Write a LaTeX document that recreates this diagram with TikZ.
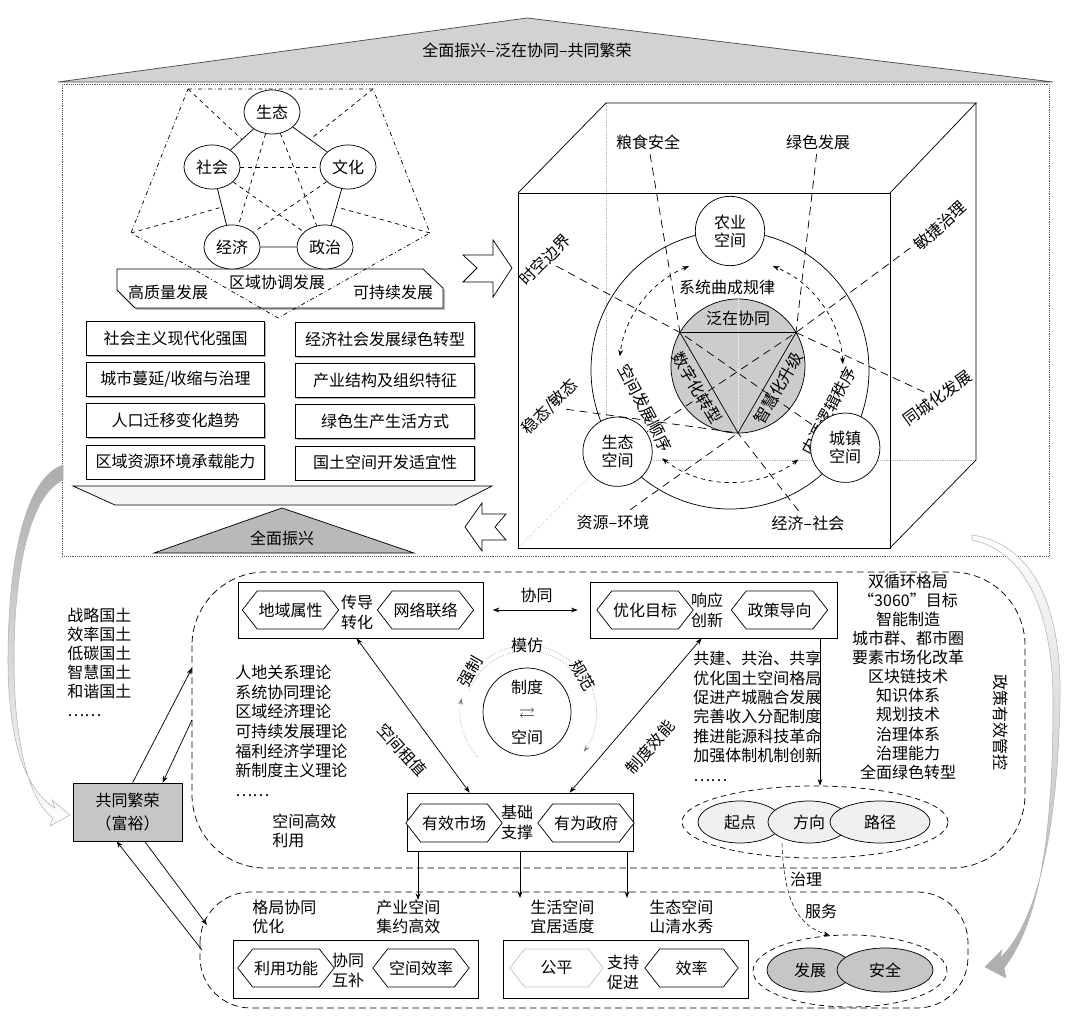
\documentclass[tikz,border=0pt]{standalone}
\usepackage{fontspec}
\usepackage{amssymb}
\setmainfont{Noto Sans CJK SC}
\usetikzlibrary{shapes.geometric,shapes.symbols,arrows.meta,calc,positioning,shadows}

\begin{document}
\begin{tikzpicture}[x=0.75pt,y=-0.75pt,line width=0.55pt,font=\fontsize{12}{15}\selectfont,>={Stealth[length=5pt,width=3.6pt]}]
\tikzset{ell/.style={ellipse,draw,fill=white,minimum width=42pt,minimum height=33pt,inner sep=0pt}};
\tikzset{spc/.style={circle,draw,fill=white,minimum size=52pt,inner sep=0pt,align=center,font=\fontsize{12}{13.5}\selectfont}};
\tikzset{tbox/.style={draw,fill=white,minimum width=134pt,minimum height=25.5pt,inner sep=0pt,
  drop shadow={shadow xshift=1.2pt,shadow yshift=-1.2pt,fill=gray!60,opacity=1}}};
\tikzset{hex/.style={signal,signal to=east and west,signal pointer angle=104,draw,fill=white,
  minimum width=#1,minimum height=28.5pt,inner sep=1pt},hex/.default=71pt};
\tikzset{pbox/.style={draw,inner sep=0pt}};
\tikzset{ray/.style={dash pattern=on 6pt off 4pt}};
\tikzset{lst/.style={inner sep=0pt,text height=10.2pt,text depth=1.8pt}};
\tikzset{two/.style={align=center,inner sep=0pt}};
\tikzset{grp/.style={ellipse,draw,dash pattern=on 4pt off 3pt,inner sep=0pt}};
\tikzset{oval/.style={ellipse,draw,inner sep=0pt,minimum height=31.5pt}};

\useasboundingbox (0,0) rectangle (1065,1016);

% roof and frame
\draw[fill=gray!35,draw=gray!60!black] (58,82) -- (527,18) -- (1053,82) -- cycle;
\node (roof) at (527,50) {全面振兴–泛在协同–共同繁荣};
\draw[gray!70!black,densely dotted,thin] (62,84) rectangle (1049,556);

% banner
\fill[gray!55] (119,271) -- (425,271) -- (445,290) -- (445,310) -- (137,310) -- (119,292) -- cycle;
\draw[fill=white] (117,269) -- (423,269) -- (443,288) -- (443,308) -- (135,308) -- (117,290) -- cycle;
\node (gz) at (168,292) {高质量发展};
\node (qy) at (277,282) {区域协调发展};
\node (kc) at (393,292) {可持续发展};

% five elements
\coordinate (p1) at (188,89);
\coordinate (p2) at (373,89);
\coordinate (p3) at (430,233);
\coordinate (p4) at (278,318);
\coordinate (p5) at (131,233);
\draw[dash dot] (p1) -- (p2) -- (p3) -- (p4) -- (p5) -- cycle;
\node[ell] (st) at (272,112) {生态};
\node[ell] (sh) at (212,167) {社会};
\node[ell] (wh) at (348,167) {文化};
\node[ell] (jj) at (232,247) {经济};
\node[ell] (zz) at (325,247) {政治};
\draw (st) -- (sh) -- (jj) -- (zz) -- (wh) -- (st);
\draw[dashed] (sh) -- (wh);
\draw[dashed] (st) -- (jj);
\draw[dashed] (st) -- (zz);
\draw[dashed] (sh) -- (zz);
\draw[dashed] (wh) -- (jj);
\draw[dashed] (p1) -- ($(st)!0.5!(sh)$);
\draw[dashed] (p2) -- ($(st)!0.5!(wh)$);
\draw[dashed] (p5) -- ($(sh)!0.5!(jj)$);
\draw[dashed] (p3) -- ($(wh)!0.5!(zz)$);

% eight boxes
\foreach \t [count=\i] in {社会主义现代化强国,城市蔓延/收缩与治理,人口迁移变化趋势,区域资源环境承载能力}
  \node[tbox] (lb\i) at (175.5,{338+41.3*(\i-1)}) {\t};
\foreach \t [count=\i] in {经济社会发展绿色转型,产业结构及组织特征,绿色生产生活方式,国土空间开发适宜性}
  \node[tbox] (rb\i) at (385,{339+41.3*(\i-1)}) {\t};

% tray and base
\draw[fill=gray!8] (73,486) -- (492,486) -- (455,505) -- (115,505) -- cycle;
\draw[fill=gray!55] (154,553) -- (282,508) -- (414,553) -- cycle;
\node (qm) at (282,538) {全面振兴};

% hollow arrows
\draw[fill=white] (463,255) -- (493,255) -- (493,240) -- (512,268) -- (493,297) -- (493,282) -- (463,282) -- (477,268) -- cycle;
\draw[fill=white] (506,514) -- (482,514) -- (482,503) -- (465,527) -- (482,551) -- (482,540) -- (506,540) -- (495,527) -- cycle;

% cube
\draw[gray!60,densely dotted,thin] (606,103) -- (606,460) -- (976,460);
\draw[gray!60,densely dotted,thin] (606,460) -- (518,548);
\draw (518,193) rectangle (890,548);
\draw (518,193) -- (606,103) -- (976,103) -- (890,193);
\draw (976,103) -- (976,460) -- (890,548);

% circles
\coordinate (c) at (730,370);
\coordinate (c2) at (731,370);
\coordinate (g) at (738,366);
\draw (c) circle [radius=104.25pt];
\draw[fill=gray!40] (g) circle [radius=50.25pt];
\draw[white,densely dotted] ($(g)+(90:50pt)$) -- ($(g)+(270:50pt)$);
\coordinate (t1) at ($(g)+(150:50.25pt)$);
\coordinate (t2) at ($(g)+(30:50.25pt)$);
\coordinate (t3) at ($(g)+(270:50.25pt)$);
\draw (t1) -- (t2) -- (t3) -- cycle;
\node (fz) at (738,318) {泛在协同};
\node[rotate=-59] (sz) at (697,388) {数字化转型};
\node[rotate=60] (zh) at (778,388) {智慧化升级};
\node (xt) at (727,287) {系统曲成规律};

\draw[dashed,<->] ($(c2)+(112:84pt)$) arc[start angle=112,end angle=173,radius=84pt];
\draw[dashed,<->] ($(c2)+(3:84pt)$) arc[start angle=3,end angle=68,radius=84pt];
\draw[dashed,<->] ($(c2)+(232:84pt)$) arc[start angle=232,end angle=307,radius=84pt];
\node[rotate=-62] (kf) at (645,408) {空间发展顺序};
\node[rotate=62] (ny) at (829,411) {内源逻辑秩序};

\node[spc] (ny1) at ($(c)+(90:104.25pt)$) {农业\\空间};
\node[spc] (eco) at ($(c)+(216:104.25pt)$) {生态\\空间};
\node[spc] (cz) at ($(c)+(326:104.25pt)$) {城镇\\空间};

\node (ls) at (648,142) {粮食安全};
\node (gd) at (818,142) {绿色发展};
\node[rotate=45] (sk) at (545,260) {时空边界};
\node[rotate=42] (mj) at (940,226) {敏捷治理};
\node[rotate=45] (wt) at (550,407) {稳态/敏态};
\node[rotate=36] (tc) at (937,398) {同城化发展};
\node (zy) at (613,522) {资源–环境};
\node (js) at (808,523) {经济–社会};
\draw[ray] (ls) -- (t1);
\draw[ray] (gd) -- (t2);
\draw[ray] (sk) -- (t1) -- (cz);
\draw[ray] (mj) -- (t2) -- (eco);
\draw[ray] (wt) -- (t3);
\draw[ray] (tc) -- (t2);
\draw[ray] (zy) -- (t3);
\draw[ray] (js) -- (t3);

% gray curved arrows
\shade[top color=gray!65,bottom color=white,draw=gray!60,thin]
  (63,465) .. controls (25,478) and (8,560) .. (8,660) .. controls (8,740) and (25,790) .. (55,808)
  -- (52,800) -- (70,815) -- (50,826) -- (53,818)
  .. controls (28,800) and (14,740) .. (14,660) .. controls (14,570) and (30,495) .. (63,480) -- cycle;
\shade[top color=white,bottom color=gray!65,draw=gray!60,thin]
  (972,535) .. controls (1040,545) and (1062,620) .. (1060,700) .. controls (1058,820) and (1040,920) .. (1000,958)
  -- (1002,950) -- (985,967) -- (1006,978) -- (1004,968)
  .. controls (1045,915) and (1053,810) .. (1053,700) .. controls (1053,622) and (1030,552) .. (972,540) -- cycle;

% middle band
\draw[dash pattern=on 5pt off 3pt,rounded corners=55pt] (192,572) rectangle (1025,868);
\node[pbox,minimum width=183.75pt,minimum height=42pt] (pA) at (360.5,610) {};
\node[pbox,minimum width=185.25pt,minimum height=42pt] (pB) at (713.5,610) {};
\node[pbox,minimum width=169.5pt,minimum height=43.5pt] (pC) at (520,822) {};
\node[hex=71pt] (dy) at (290.5,610) {地域属性};
\node[hex=71pt] (wl) at (425.5,610) {网络联络};
\node[hex=68pt] (yh) at (645,610) {优化目标};
\node[hex=71pt] (zc) at (779.5,610) {政策导向};
\node[hex=69pt] (sc) at (454,823) {有效市场};
\node[hex=66pt] (zf) at (586,823) {有为政府};
\node[two] (cd) at (357,612) {传导\\转化};
\node[two] (xy) at (707,610) {响应\\创新};
\node[two] (jc) at (517,822) {基础\\支撑};
\draw[<->,shorten <=7pt,shorten >=9pt] (pA.east) -- (pB.west) node[midway,above=2pt] (xtg) {协同};
\draw[<->] ($(pA.south west)+(119,0)$) -- ($(pC.north west)+(63,0)$);
\draw[<->] ($(pC.north west)+(163,0)$) -- ($(pB.south west)+(112,0)$);
\node[rotate=-48] (zj) at (402,750) {空间租值};
\node[rotate=49] (zx) at (650,747) {制度效能};

\node[circle,draw,minimum size=66pt] (zd) at (527,712) {};
\node[two,font=\fontsize{12}{18.75}\selectfont] (zdt) at (527,712) {制度\\$\rightleftarrows$\\空间};
\draw[gray,densely dotted,thin,->] ($(zd)+(224:50pt)$) arc[start angle=224,end angle=168,radius=50pt];
\draw[gray,densely dotted,thin] ($(zd)+(160:46pt)$) arc[start angle=160,end angle=20,radius=46pt];
\draw[gray,densely dotted,thin] ($(zd)+(150:50pt)$) arc[start angle=150,end angle=30,radius=50pt];
\draw[gray,densely dotted,thin,->] ($(zd)+(30:52pt)$) arc[start angle=30,end angle=-35,radius=52pt];
\node (mf) at (527,645) {模仿};
\node[rotate=60] (qz) at (470,672) {强制};
\node[rotate=-60] (gf) at (583,675) {规范};

\foreach \t [count=\i] in {战略国土,效率国土,低碳国土,智慧国土,和谐国土,……}
  \node[lst,anchor=west] (gt\i) at (67,{616+19*(\i-1)}) {\t};
\foreach \t [count=\i] in {人地关系理论,系统协同理论,区域经济理论,可持续发展理论,福利经济学理论,新制度主义理论,……}
  \node[lst,anchor=west] (ll\i) at (235,{673+19.6*(\i-1)}) {\t};
\foreach \t [count=\i] in {共建、共治、共享,优化国土空间格局,促进产城融合发展,完善收入分配制度,推进能源科技革命,加强体制机制创新,……}
  \node[lst,anchor=west] (jz\i) at (693,{659+19.4*(\i-1)}) {\t};
\foreach \t [count=\i] in {双循环格局,“3060”目标,智能制造,城市群、都市圈,要素市场化改革,区块链技术,知识体系,规划技术,治理体系,治理能力,全面绿色转型}
  \node[lst] (sx\i) at (908,{582+19.05*(\i-1)}) {\t};
\node[lst,rotate=-90] (yx) at (1000,722) {政策有效管控};
\node[lst,anchor=west] (gx1) at (272,822) {空间高效};
\node[lst,anchor=west] (gx2) at (272,841) {利用};

% start direction path
\node[grp,minimum width=199.5pt,minimum height=54pt] (ge) at (815,822) {};
\node[oval,fill=gray!12,minimum width=63pt] (qd) at (740,822) {起点};
\node[oval,fill=gray!12,minimum width=61.5pt] (fx) at (809,822) {方向};
\node[oval,fill=gray!12,minimum width=75pt] (lj) at (880,822) {路径};
\coordinate (v1) at (820,638);
\draw[->,thin] (v1) -- (v1 |- ge.north);

% bottom band
\coordinate (d1) at (418,900);
\coordinate (d2) at (520,898);
\coordinate (d3) at (627,898);
\draw[->] (pC.south -| d1) -- (d1);
\draw[->] (pC.south -| d2) -- (d2);
\draw[->] (pC.south -| d3) -- (d3);
\draw[dash pattern=on 5pt off 3pt,rounded corners=38pt] (200,892) rectangle (968,1008);
\node[pbox,minimum width=183.75pt,minimum height=43.5pt] (pD) at (355.5,969) {};
\node[pbox,minimum width=183.75pt,minimum height=43.5pt] (pE) at (625.5,969) {};
\node[hex=70pt] (gn) at (286,968) {利用功能};
\node[hex=70pt] (xl) at (421,968) {空间效率};
\node[hex=70pt,draw=gray!45] (gp) at (556.5,968) {公平};
\node[hex=70pt] (xv) at (691.5,968) {效率};
\node[two] (hb) at (348,970) {协同\\互补};
\node[two] (cj) at (623,972) {支持\\促进};
\node[lst,anchor=west] (bl1) at (252,908) {格局协同};
\node[lst,anchor=west] (bl2) at (252,927) {优化};
\node[lst,anchor=west] (bl3) at (376,908) {产业空间};
\node[lst,anchor=west] (bl4) at (376,927) {集约高效};
\node[lst,anchor=west] (bl5) at (530,908) {生活空间};
\node[lst,anchor=west] (bl6) at (530,927) {宜居适度};
\node[lst,anchor=west] (bl7) at (649,908) {生态空间};
\node[lst,anchor=west] (bl8) at (649,927) {山清水秀};

\node[grp,minimum width=145.5pt,minimum height=54pt] (gs) at (850,971) {};
\node[oval,fill=gray!45,minimum width=64.5pt,minimum height=33pt] (fz2) at (810,970) {发展};
\node[oval,fill=gray!45,minimum width=72pt,minimum height=33pt] (aq) at (885,970) {安全};
\draw[densely dashed,thin,->] ($(fx.south)+(-27,0)$) .. controls (784,905) and (800,926) .. ($(gs.north)+(-20,1)$);
\node[lst] (zl) at (806,880) {治理};
\node[lst] (fw) at (821,912) {服务};

% common prosperity
\node[draw,fill=gray!45,minimum width=81.75pt,minimum height=43.5pt,align=center,font=\fontsize{12}{17}\selectfont] (gtf) at (127.5,812) {共同繁荣\\（富裕）};
\coordinate (m1) at (192,668);
\coordinate (m2) at (192,720);
\coordinate (b1) at (207,925);
\coordinate (b2) at (202,950);
\draw[->] ($(gtf.north west)+(60,0)$) -- (m1);
\draw[->] (m2) -- ($(gtf.north west)+(90,0)$);
\draw[->] ($(gtf.south west)+(72,0)$) -- (b1);
\draw[->] (b2) -- ($(gtf.south west)+(44,0)$);
\end{tikzpicture}
\end{document}
